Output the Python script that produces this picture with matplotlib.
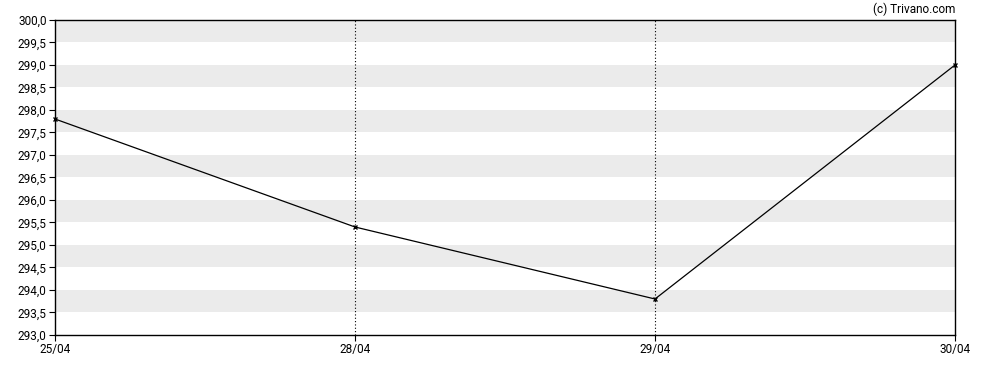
import matplotlib.pyplot as plt

plt.rcParams['font.family'] = ['Roboto', 'DejaVu Sans']

# dane
dates = ['25/04', '28/04', '29/04', '30/04']
prices = [297.8, 295.4, 293.8, 299.0]
y_ticks = [293.0, 293.5, 294.0, 294.5, 295.0, 295.5, 296.0, 296.5,
           297.0, 297.5, 298.0, 298.5, 299.0, 299.5, 300.0]

fig = plt.figure(figsize=(9.88, 3.70), dpi=100)
ax = fig.add_axes([55 / 988, 1 - 335 / 370, 900 / 988, 315 / 370])

x = list(range(len(dates)))

# szare pasy
for lo in y_ticks[1:-1:2]:
    ax.axhspan(lo, lo + 0.5, color='#ebebeb', lw=0, zorder=0)

# pionowe linie kropkowane
for xi in x[1:-1]:
    ax.axvline(xi, color='black', lw=0.8, ls=(0, (1, 2)), zorder=1)

ax.plot(x, prices, color='black', lw=0.9, marker='x', ms=3.5, mew=1,
        zorder=3, clip_on=False)

ax.set_xlim(0, len(dates) - 1)
ax.set_ylim(293, 300)
ax.set_xticks(x)
ax.set_xticklabels(dates)
ax.set_yticks(y_ticks)
ax.set_yticklabels([f"{v:.1f}".replace('.', ',') for v in y_ticks])
ax.tick_params(labelsize=8.5, length=4, width=0.8, color='black', pad=2)
for s in ax.spines.values():
    s.set_color('black')
    s.set_linewidth(1)

fig.text(955 / 988, 1 - 9 / 370, '(c) Trivano.com', ha='right', va='center', fontsize=8.5)

plt.savefig('out.png')
plt.close()
